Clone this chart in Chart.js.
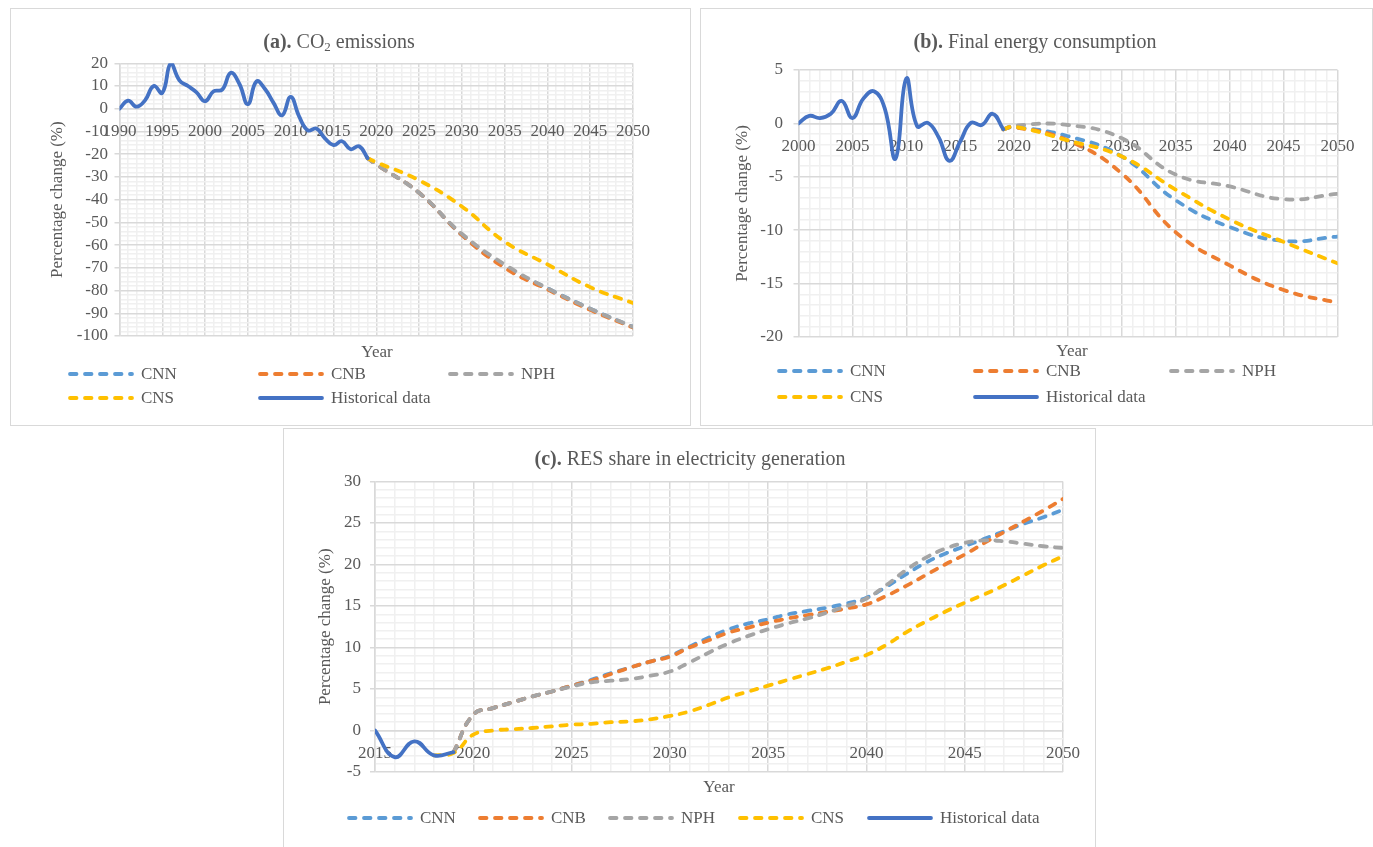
<!DOCTYPE html>
<html>
<head>
<meta charset="utf-8">
<script src="https://cdn.jsdelivr.net/npm/chart.js@4.4.1/dist/chart.umd.min.js"></script>
<style>
  body { margin: 0; background: #fff; width: 1373px; height: 847px; overflow: hidden;
         font-family: "Liberation Serif", "Times New Roman", serif; color: #595959; }
  .panel { position: absolute; box-sizing: border-box; border: 1px solid #d9d9d9; background: #fff; }
  .panel canvas { position: absolute; left: 0; top: 0; }
  .txt { position: absolute; white-space: nowrap; transform: translate(-50%, -50%); line-height: 1.2; }
  .ttl { font-size: 20px; }
  .ttl sub { font-size: 13px; vertical-align: -3px; line-height: 0; }
  .yr { font-size: 17px; }
  .leg { position: absolute; display: flex; align-items: center; font-size: 17px; transform: translateY(-50%); white-space: nowrap; }
  .leg svg { margin-right: 7px; }
</style>
</head>
<body>

<div class="panel" style="left:10px;top:8px;width:681px;height:418px"><canvas id="chartA" width="679" height="416"></canvas></div>
<div class="panel" style="left:700px;top:8px;width:673px;height:418px"><canvas id="chartB" width="671" height="416"></canvas></div>
<div class="panel" style="left:283px;top:428px;width:813px;height:430px"><canvas id="chartC" width="811" height="418"></canvas></div>

<div class="txt ttl" style="left:339px;top:41px"><b>(a).</b> CO<sub>2</sub> emissions</div>
<div class="txt ttl" style="left:1035px;top:41px"><b>(b).</b> Final energy consumption</div>
<div class="txt ttl" style="left:690px;top:458px"><b>(c).</b> RES share in electricity generation</div>

<div class="txt yr" style="left:377px;top:352px">Year</div>
<div class="txt yr" style="left:1072px;top:351px">Year</div>
<div class="txt yr" style="left:719px;top:787px">Year</div>

<div id="legends"></div>

<script>
const FONT = "'Liberation Serif', 'Times New Roman', serif";
const TEXT = '#595959';
const MAJOR = '#d9d9d9';
const MINOR = '#f0f0f0';

const seriesNames = ['CNN', 'CNB', 'NPH', 'CNS', 'Historical data'];
const seriesColors = ['#5b9bd5', '#ed7d31', '#a5a5a5', '#ffc000', '#4472c4'];

// ---- (a) CO2 emissions ----
const co2HistYears = [1990, 1991, 1992, 1993, 1994, 1995, 1996, 1997, 1998, 1999, 2000, 2001, 2002, 2003, 2004,
                      2005, 2006, 2007, 2008, 2009, 2010, 2011, 2012, 2013, 2014, 2015, 2016, 2017, 2018, 2019];
const co2Hist = [0, 3.6, 0.9, 3.8, 10, 7, 20, 12.5, 10, 7.2, 3.3, 7.7, 8.4, 15.8, 11,
                 2, 12, 8.7, 2.6, -2.9, 5.2, -3.5, -9.5, -8.7, -13, -16, -14.3, -17.8, -16.5, -21.8];
const co2ProjYears = [2019, 2020, 2025, 2030, 2035, 2040, 2045, 2050];
const co2CNN = [-21.8, -24.5, -37, -55.5, -69.5, -79, -88, -96];
const co2CNB = [-21.8, -24.5, -37, -55.5, -70, -79.5, -88.5, -96.3];
const co2NPH = [-21.8, -24.5, -37, -55, -68.5, -79, -88, -96];
const co2CNS = [-21.8, -23.5, -31.5, -43, -58.5, -68.5, -78.5, -85.5];

// ---- (b) Final energy consumption ----
const fecHistYears = [2000, 2001, 2002, 2003, 2004, 2005, 2006, 2007, 2008, 2009,
                      2010, 2011, 2012, 2013, 2014, 2015, 2016, 2017, 2018, 2019];
const fecHist = [0, 0.7, 0.5, 0.9, 2.1, 0.5, 2.3, 3.0, 1.4, -3.3,
                 4.2, -0.25, 0.05, -1.3, -3.5, -1.7, 0.05, -0.15, 0.9, -0.55];
const fecProjYears = [2019, 2020, 2025, 2030, 2035, 2040, 2045, 2050];
const fecCNN = [-0.55, -0.35, -1.2, -3.1, -7.2, -9.7, -11, -10.6];
const fecCNB = [-0.55, -0.35, -1.6, -4.7, -10.2, -13.3, -15.6, -16.8];
const fecNPH = [-0.55, -0.2, -0.15, -1.4, -4.8, -5.9, -7.1, -6.6];
const fecCNS = [-0.55, -0.3, -1.6, -3.1, -6.2, -9.0, -11.1, -13.1];

// ---- (c) RES share in electricity generation ----
const resHistYears = [2015, 2016, 2017, 2018, 2019];
const resHist = [0, -3.2, -1.3, -3.0, -2.6];
const resProjYears = [2019, 2020, 2021, 2022, 2023, 2024, 2025, 2026, 2027, 2028, 2029, 2030, 2031, 2032, 2033, 2034,
                      2035, 2036, 2037, 2038, 2039, 2040, 2041, 2042, 2043, 2044, 2045, 2046, 2047, 2048, 2049, 2050];
const resCNN = [-2.6, 1.9, 2.7, 3.4, 4.1, 4.7, 5.4, 6.1, 6.9, 7.6, 8.3, 9.0, 10.1, 11.2, 12.2, 12.9,
                13.4, 14.0, 14.4, 14.8, 15.3, 16.0, 17.3, 18.8, 20.2, 21.3, 22.2, 23.1, 24.0, 24.9, 25.7, 26.6];
const resCNB = [-2.6, 1.9, 2.7, 3.4, 4.1, 4.7, 5.4, 6.0, 6.8, 7.6, 8.3, 8.9, 10.0, 10.9, 11.8, 12.4,
                13.0, 13.5, 13.9, 14.3, 14.7, 15.2, 16.2, 17.4, 18.7, 20.0, 21.2, 22.6, 23.9, 25.2, 26.5, 27.9];
const resNPH = [-2.6, 1.9, 2.7, 3.4, 4.1, 4.7, 5.3, 5.8, 6.0, 6.2, 6.6, 7.1, 8.2, 9.4, 10.5, 11.4,
                12.2, 12.9, 13.5, 14.2, 15.0, 15.9, 17.5, 19.3, 20.8, 21.9, 22.6, 22.9, 22.8, 22.5, 22.2, 22.0];
const resCNSYears = [2018, 2019, 2020, 2021, 2022, 2023, 2024, 2025, 2026, 2027, 2028, 2029, 2030, 2031, 2032, 2033, 2034,
                     2035, 2036, 2037, 2038, 2039, 2040, 2041, 2042, 2043, 2044, 2045, 2046, 2047, 2048, 2049, 2050];
const resCNS = [-3.0, -2.7, -0.5, 0.0, 0.15, 0.3, 0.5, 0.7, 0.8, 1.0, 1.1, 1.35, 1.75, 2.3, 3.1, 4.0, 4.7,
                5.4, 6.1, 6.8, 7.5, 8.3, 9.1, 10.3, 11.8, 13.1, 14.3, 15.4, 16.4, 17.5, 18.7, 19.9, 21.0];

const pts = (xs, ys) => xs.map((x, i) => ({x: x, y: ys[i]}));

function makeChart(id, o) {
  const datasets = o.series.map((s, i) => ({
    label: seriesNames[i],
    data: pts(s[0], s[1]),
    borderColor: seriesColors[i],
    backgroundColor: seriesColors[i],
    borderWidth: 3.8,
    borderDash: i < 4 ? [6.5, 8.5] : [],
    borderCapStyle: 'round',
    borderJoinStyle: 'round',
    pointRadius: 0,
    tension: 0.45,
    fill: false,
    order: 4 - i
  }));

  return new Chart(document.getElementById(id), {
    type: 'line',
    data: { datasets },
    options: {
      responsive: false,
      devicePixelRatio: 1,
      animation: false,
      events: [],
      layout: { padding: o.pad },
      plugins: { legend: { display: false }, tooltip: { enabled: false } },
      scales: {
        x: {
          type: 'linear',
          min: o.xMin, max: o.xMax,
          position: { y: 0 },
          ticks: {
            stepSize: 1, autoSkip: false, maxRotation: 0, minRotation: 0, maxTicksLimit: 200,
            padding: 8, color: TEXT, font: { family: FONT, size: 17 },
            callback: v => (v % 5 === 0 ? String(v) : '')
          },
          grid: {
            color: c => (c.tick && c.tick.value % 5 === 0 ? MAJOR : MINOR),
            lineWidth: 1.5,
            tickLength: 5,
            tickColor: 'rgba(0,0,0,0)'
          },
          border: { color: MAJOR, width: 1.5 }
        },
        y: {
          type: 'linear',
          min: o.yMin, max: o.yMax,
          afterFit: s => { s.width = o.yWidth; },
          ticks: {
            stepSize: o.yStep, autoSkip: false, maxTicksLimit: 200,
            padding: o.yTickPad, color: TEXT, font: { family: FONT, size: 17 },
            callback: v => (Math.round(v) % o.yMajor === 0 ? String(Math.round(v)) : '')
          },
          grid: {
            color: c => (c.tick && Math.round(c.tick.value) % o.yMajor === 0 ? MAJOR : MINOR),
            lineWidth: 1.5,
            tickLength: 5,
            tickColor: c => (c.tick && Math.round(c.tick.value) % o.yMajor === 0 ? MAJOR : 'rgba(0,0,0,0)')
          },
          border: { color: MAJOR, width: 1.5 },
          title: {
            display: true, text: 'Percentage change (%)', color: TEXT,
            font: { family: FONT, size: 17 }, padding: { top: 0, bottom: 0 }
          }
        }
      }
    }
  });
}

makeChart('chartA', {
  xMin: 1990, xMax: 2050, yMin: -100, yMax: 20, yStep: 2, yMajor: 10,
  yWidth: 71.7, yTickPad: 6.5,
  pad: { left: 36.8, right: 57, top: 54.3, bottom: 89 },
  series: [[co2ProjYears, co2CNN], [co2ProjYears, co2CNB], [co2ProjYears, co2NPH],
           [co2ProjYears, co2CNS], [co2HistYears, co2Hist]]
});

makeChart('chartB', {
  xMin: 2000, xMax: 2050, yMin: -20, yMax: 5, yStep: 1, yMajor: 5,
  yWidth: 66.2, yTickPad: 10.5,
  pad: { left: 31.3, right: 34.5, top: 61, bottom: 88 },
  series: [[fecProjYears, fecCNN], [fecProjYears, fecCNB], [fecProjYears, fecNPH],
           [fecProjYears, fecCNS], [fecHistYears, fecHist]]
});

makeChart('chartC', {
  xMin: 2015, xMax: 2050, yMin: -5, yMax: 30, yStep: 1, yMajor: 5,
  yWidth: 59.2, yTickPad: 9,
  pad: { left: 31.8, right: 32, top: 52.5, bottom: 75 },
  series: [[resProjYears, resCNN], [resProjYears, resCNB], [resProjYears, resNPH],
           [resCNSYears, resCNS], [resHistYears, resHist]]
});

// legends: [series index, left, top]
const legendA = [[0, 68, 374], [1, 258, 374], [2, 448, 374], [3, 68, 398], [4, 258, 398]];
const legendB = [[0, 777, 371], [1, 973, 371], [2, 1169, 371], [3, 777, 397], [4, 973, 397]];
const legendC = [[0, 347, 818], [1, 478, 818], [2, 608, 818], [3, 738, 818], [4, 867, 818]];

function sample(i) {
  const dash = i < 4 ? ' stroke-dasharray="6.5 8.5"' : '';
  return '<svg width="66" height="8"><line x1="2" y1="4" x2="64" y2="4" stroke="' + seriesColors[i] +
         '" stroke-width="3.8" stroke-linecap="round"' + dash + '/></svg>';
}
const host = document.getElementById('legends');
[legendA, legendB, legendC].forEach(items => {
  items.forEach(([i, x, y]) => {
    const d = document.createElement('div');
    d.className = 'leg';
    d.style.left = x + 'px';
    d.style.top = y + 'px';
    d.innerHTML = sample(i) + '<span>' + seriesNames[i] + '</span>';
    host.appendChild(d);
  });
});
</script>
</body>
</html>
